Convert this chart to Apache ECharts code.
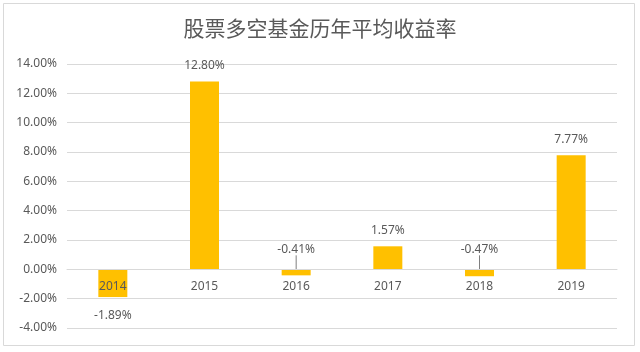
<!DOCTYPE html>
<html>
<head>
<meta charset="utf-8">
<script src="https://cdn.jsdelivr.net/npm/echarts@6/dist/echarts.min.js"></script>
<style>
  html, body { margin: 0; padding: 0; background: #fff; }
  #chart { width: 640px; height: 352px; }
</style>
</head>
<body>
<div id="chart"></div>
<script>
// 年份 和 平均收益率(%)
const years = ['2014', '2015', '2016', '2017', '2018', '2019']
const returns = [-1.89, 12.80, -0.41, 1.57, -0.47, 7.77]
// 标签放在哪一侧
const labelSide = ['bottom', 'top', 'top', 'top', 'top', 'top']
// 负值但标签在上方的，需要引线
const withGuide = [false, false, true, false, true, false]

const textColor = '#595959'
const lineColor = '#d9d9d9'

const yMin = -4
const yMax = 14
const gridTop = 64
const gridBottom = 24
const chartH = 352
// x轴放到 0 的位置（onZero 在这里不起作用，用 offset 顶上去）
const plotH = chartH - gridTop - gridBottom
const zeroOffset = -plotH * (0 - yMin) / (yMax - yMin)

const myChart = echarts.init(document.getElementById('chart'))
myChart.setOption({
  animation: false,
  textStyle: { fontFamily: 'Noto Sans, Noto Sans CJK SC' },
  title: {
    text: '股票多空基金历年平均收益率',
    left: 'center',
    top: 13,
    textStyle: {
      fontFamily: 'Noto Sans CJK SC',
      fontSize: 21,
      fontWeight: 'normal',
      color: textColor
    }
  },
  graphic: [{
    type: 'rect',
    silent: true,
    shape: { x: 3.5, y: 3.5, width: 631, height: 342 },
    style: { fill: 'none', stroke: lineColor, lineWidth: 1 }
  }],
  grid: {
    left: 67,
    right: 23,
    top: gridTop,
    bottom: gridBottom
  },
  xAxis: {
    type: 'category',
    data: years,
    offset: zeroOffset,
    axisLine: { onZero: false, lineStyle: { color: lineColor } },
    axisTick: { show: false },
    axisLabel: { color: textColor, fontSize: 12, margin: 11 },
    z: 3
  },
  yAxis: {
    type: 'value',
    min: yMin,
    max: yMax,
    interval: 2,
    axisLine: { show: false },
    axisTick: { show: false },
    axisLabel: {
      color: textColor,
      fontSize: 12,
      margin: 10,
      formatter: (v) => v.toFixed(2) + '%'
    },
    splitLine: { lineStyle: { color: lineColor } }
  },
  series: [{
    type: 'bar',
    barWidth: 29,
    itemStyle: { color: '#ffc000' },
    data: returns.map((v, i) => ({
      value: v,
      label: { position: labelSide[i], distance: labelSide[i] === 'bottom' ? 13 : 10 },
      labelLine: { show: withGuide[i] }
    })),
    label: {
      show: true,
      color: textColor,
      fontSize: 12,
      formatter: (p) => p.value.toFixed(2) + '%'
    },
    labelLine: {
      lineStyle: { color: '#7f7f7f', width: 1 }
    },
    labelLayout: (params) => withGuide[params.dataIndex] ? { dy: -4 } : {}
  }]
})
</script>
</body>
</html>
